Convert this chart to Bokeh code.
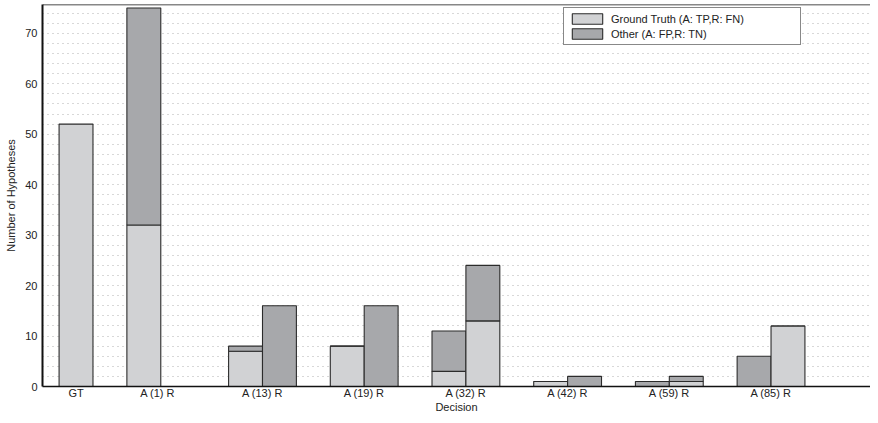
import numpy as np
from bokeh.plotting import figure
from bokeh.models import (Range1d, FixedTicker, CustomJSTickFormatter, Legend,
                          LegendItem, Span)
from bokeh.embed import file_html
from bokeh.resources import INLINE

# ---- data ----
categories = ["GT", "A  (1)  R", "A (13) R", "A (19) R", "A (32) R",
              "A (42) R", "A (59) R", "A (85) R"]
gt_total = 52
# Accepted (A) bars for the decision groups A(1) .. A(85)
accept_truth = [32, 7, 8, 3, 1, 0, 0]
accept_other = [43, 1, 0, 8, 0, 1, 6]
# Rejected (R) bars
reject_truth = [0, 0, 0, 13, 0, 1, 12]
reject_other = [0, 16, 16, 11, 2, 1, 0]
y_ticks = [0, 10, 20, 30, 40, 50, 60, 70]
legend_labels = ["Ground Truth (A: TP,R: FN)", "Other (A: FP,R: TN)"]
x_title = "Decision"
y_title = "Number of Hypotheses"

LIGHT = "#d1d2d4"
DARK = "#a7a8ab"
EDGE = "#2b2b2b"
FONT = "Liberation Sans"
Y_TOP = 75.7

bw = 1.0 / 3.0
group_centers = np.arange(2, 2 + len(accept_truth), dtype=float)
gt_x = 1.0 + bw / 2
xa = group_centers - bw / 2
xr = group_centers + bw / 2

at = np.array(accept_truth, float)
ao = np.array(accept_other, float)
rt = np.array(reject_truth, float)
ro = np.array(reject_other, float)

p = figure(width=870, height=415, output_backend="svg", toolbar_location=None,
           x_range=Range1d(0.837, 8.978), y_range=Range1d(0, Y_TOP),
           min_border_left=42, min_border_right=0, min_border_top=4,
           min_border_bottom=24)
p.background_fill_color = "white"
p.border_fill_color = "white"
p.outline_line_color = None

# top box edge
p.add_layout(Span(location=Y_TOP, dimension="width", line_color="#111111",
                  line_width=1.5))

# grid
p.xgrid.visible = False
p.ygrid.ticker = FixedTicker(ticks=list(range(2, 76, 2)))
p.ygrid.grid_line_color = "#b0b0b0"
p.ygrid.grid_line_dash = "1 4"
p.ygrid.grid_line_width = 1

common = dict(width=bw, line_color=EDGE, line_width=1.1)
p.vbar(x=[gt_x], bottom=[0], top=[gt_total], fill_color=LIGHT, **common)
r_light = p.vbar(x=xa, bottom=np.zeros_like(at), top=at, fill_color=LIGHT, **common)
r_dark = p.vbar(x=xa, bottom=at, top=at + ao, fill_color=DARK, **common)
p.vbar(x=xr, bottom=np.zeros_like(rt), top=rt, fill_color=LIGHT, **common)
p.vbar(x=xr, bottom=rt, top=rt + ro, fill_color=DARK, **common)

# axes
tick_pos = [gt_x] + list(group_centers)
p.xaxis.ticker = FixedTicker(ticks=tick_pos)
p.xaxis.formatter = CustomJSTickFormatter(args=dict(labels=categories),
                                          code="return labels[index]")
p.yaxis.ticker = FixedTicker(ticks=y_ticks)
for ax in (p.xaxis[0], p.yaxis[0]):
    ax.major_tick_line_color = None
    ax.minor_tick_line_color = None
    ax.major_tick_in = 0
    ax.major_tick_out = 0
    ax.minor_tick_in = 0
    ax.minor_tick_out = 0
    ax.major_label_text_font = FONT
    ax.major_label_text_font_size = "11px"
    ax.major_label_text_color = "#222222"
    ax.axis_label_text_font = FONT
    ax.axis_label_text_font_size = "11px"
    ax.axis_label_text_font_style = "normal"
    ax.axis_label_text_color = "#222222"
    ax.axis_line_color = "#111111"
p.xaxis.axis_line_width = 1.5
p.yaxis.axis_line_width = 2
p.xaxis.axis_label = x_title
p.yaxis.axis_label = y_title
p.xaxis.major_label_standoff = 0
p.xaxis.axis_label_standoff = -1
p.yaxis.major_label_standoff = 5
p.yaxis.axis_label_standoff = 5

legend = Legend(items=[LegendItem(label=legend_labels[0], renderers=[r_light]),
                       LegendItem(label=legend_labels[1], renderers=[r_dark])],
                location=(521, 341))
legend.glyph_width = 38
legend.glyph_height = 13
legend.label_height = 13
legend.label_width = 185
legend.label_standoff = 5
legend.spacing = 2
legend.padding = 4
legend.margin = 0
legend.label_text_font = FONT
legend.label_text_font_size = "11px"
legend.label_text_color = "#222222"
legend.border_line_color = "#111111"
legend.border_line_width = 1
legend.background_fill_alpha = 1
p.add_layout(legend, "center")

open("out.html", "w").write(file_html(p, INLINE))
